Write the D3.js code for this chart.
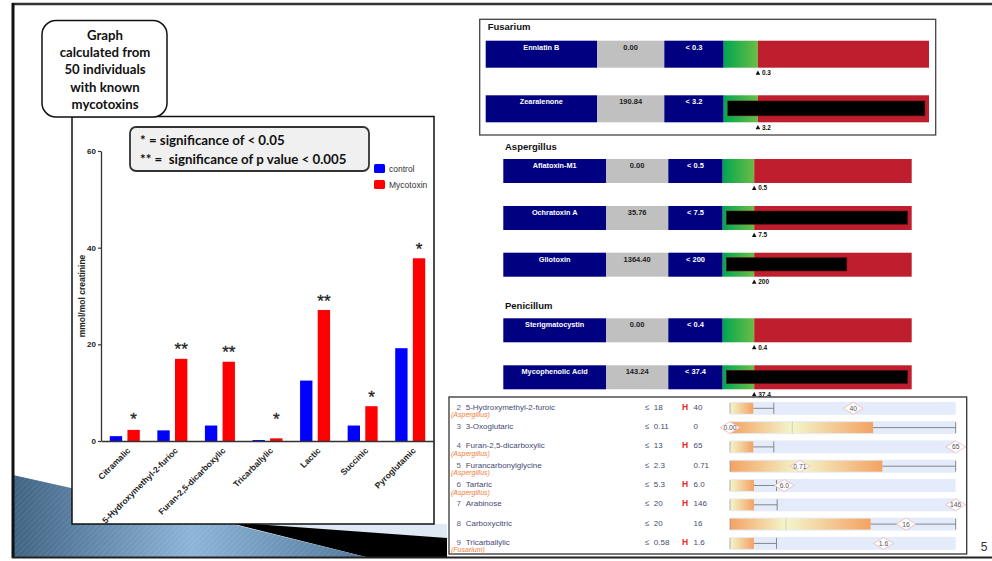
<!DOCTYPE html>
<html><head><meta charset="utf-8">
<script src="https://cdn.jsdelivr.net/npm/d3@7"></script>
<style>body{margin:0;background:#fff;overflow:hidden}svg{display:block}</style>
</head><body>
<svg id="s" width="992" height="561"></svg>
<script>
// ---------------- DATA ----------------
const categories = ["Citramalic","5-Hydroxymethyl-2-furioc","Furan-2,5-dicarboxylic","Tricarballylic","Lactic","Succinic","Pyroglutamic"];
const seriesNames = ["control","Mycotoxin"];
const controlValues = [1.0, 2.2, 3.2, 0.2, 12.5, 3.2, 19.2];
const mycotoxinValues = [2.3, 17.0, 16.4, 0.55, 27.1, 7.2, 37.8];
const significance = ["*","**","**","*","**","*","*"];
const yTicks = [0, 20, 40, 60];
const yLabel = "mmol/mol creatinine";
const noteLines = ["Graph","calculated from","50 individuals","with known","mycotoxins"];
const sigLines = ["* = significance of < 0.05","** =  significance of p value < 0.005"];

const fusariumNames = ["Enniatin B","Zearalenone"];
const fusariumResults = ["0.00","190.84"];
const fusariumCutoffs = ["0.3","3.2"];
const fusariumRedact = [0, 5.88];
const aspergillusNames = ["Aflatoxin-M1","Ochratoxin A","Gliotoxin"];
const aspergillusResults = ["0.00","35.76","1364.40"];
const aspergillusCutoffs = ["0.5","7.5","200"];
const aspergillusRedact = [0, 5.87, 3.94];
const penicillumNames = ["Sterigmatocystin","Mycophenolic Acid"];
const penicillumResults = ["0.00","143.24"];
const penicillumCutoffs = ["0.4","37.4"];
const penicillumRedact = [0, 5.87];

const tableIndex = [2,3,4,5,6,7,8,9];
const tableNames = ["5-Hydroxymethyl-2-furoic","3-Oxoglutaric","Furan-2,5-dicarboxylic","Furancarbonylglycine","Tartaric","Arabinose","Carboxycitric","Tricarballylic"];
const tableGenus = ["Aspergillus","","Aspergillus","Aspergillus","Aspergillus","","","Fusarium"];
const tableLimits = ["18","0.11","13","2.3","5.3","20","20","0.58"];
const tableFlags = ["H","","H","","H","H","","H"];
const tableValues = ["40","0","65","0.71","6.0","146","16","1.6"];
const markerLabels = ["40","0.00","65","0.71","6.0","146","16","1.6"];
const boxMid = [null, 27.6, null, 31, null, null, 24.8, null];
const boxEnd = [10.3, 63.4, 10.3, 67.5, 10.6, 10.6, 62.3, 10.6];
const whiskerEnd = [19.4, 100, 19.4, 100, 20.6, 20.9, 100, 20.6];
const markerPos = [54.6, 0, 100, 31, 24.1, 100, 78, 68];
const pageNumber = "5";

// ---------------- DRAW ----------------
const svg = d3.select("#s");
const defs = svg.append("defs");
const ARIAL = "'Liberation Sans', Arial, sans-serif";
const CAL = "Lato, 'Open Sans', sans-serif";

// background decoration
const bg = defs.append("linearGradient").attr("id","wedge").attr("x1","0").attr("x2","1").attr("y1","0").attr("y2","0");
bg.append("stop").attr("offset","0").attr("stop-color","#3f6383");
bg.append("stop").attr("offset","0.5").attr("stop-color","#8db5d7");
bg.append("stop").attr("offset","1").attr("stop-color","#4f7699");
const pat = defs.append("pattern").attr("id","hatch").attr("width",4).attr("height",4).attr("patternUnits","userSpaceOnUse").attr("patternTransform","rotate(45)");
pat.append("line").attr("x1",0).attr("y1",0).attr("x2",0).attr("y2",4).attr("stroke","#ffffff").attr("stroke-opacity",0.18).attr("stroke-width",1);

svg.append("polygon").attr("points","240,524 447,524 447,540 400,540").attr("fill","#dfe9f3");
svg.append("polygon").attr("points","226,522 447,538 447,558 370,558").attr("fill","#000");
const wedgePts = "13,475 232,524 370,558 13,558";
svg.append("polygon").attr("points",wedgePts).attr("fill","url(#wedge)");
svg.append("polygon").attr("points",wedgePts).attr("fill","url(#hatch)");

// slide frame
svg.append("line").attr("x1",12).attr("x2",992).attr("y1",4).attr("y2",4).attr("stroke","#333").attr("stroke-width",2.5);
svg.append("line").attr("x1",13).attr("x2",13).attr("y1",3).attr("y2",558).attr("stroke","#111").attr("stroke-width",3);
svg.append("line").attr("x1",12).attr("x2",992).attr("y1",557.5).attr("y2",557.5).attr("stroke","#222").attr("stroke-width",2);

// chart frame
svg.append("rect").attr("x",72).attr("y",116.5).attr("width",362).attr("height",407.5)
  .attr("fill","#fff").attr("stroke","#111").attr("stroke-width",1.5);

const x0 = d3.scaleBand().domain(categories).range([101,434]).padding(0);
const x1 = d3.scaleBand().domain(seriesNames).range([x0.bandwidth()/2-15, x0.bandwidth()/2+15]).paddingInner(0.3);
const y = d3.scaleLinear().domain([0,60]).range([441,151]);
const color = d3.scaleOrdinal().domain(seriesNames).range(["#0000ff","#ff0000"]);

const chart = svg.append("g");
const rows = categories.map((c,i)=>({c, vals:[{k:"control",v:controlValues[i]},{k:"Mycotoxin",v:mycotoxinValues[i]}], sig:significance[i], m:mycotoxinValues[i]}));
const grp = chart.selectAll("g.grp").data(rows).join("g").attr("transform",d=>`translate(${x0(d.c)},0)`);
grp.selectAll("rect").data(d=>d.vals).join("rect")
  .attr("x",d=>x1(d.k)).attr("width",x1.bandwidth())
  .attr("y",d=>y(d.v)).attr("height",d=>y(0)-y(d.v))
  .attr("fill",d=>color(d.k));
grp.append("text").text(d=>d.sig)
  .attr("x",x1("Mycotoxin")+x1.bandwidth()/2)
  .attr("y",d=>y(Math.max(d.m,2.5))-3.5)
  .attr("text-anchor","middle").attr("font-family",ARIAL).attr("font-size",17).attr("fill","#222")
  .attr("stroke","#222").attr("stroke-width",0.3);

const yAxis = chart.append("g").attr("transform","translate(101,0)")
  .call(d3.axisLeft(y).tickValues(yTicks).tickSize(3).tickSizeOuter(0).tickPadding(2));
yAxis.select(".domain").attr("stroke","#333").attr("stroke-width",1.3);
yAxis.selectAll(".tick line").attr("stroke","#333").attr("stroke-width",1.2);
yAxis.selectAll("text").attr("font-family",ARIAL).attr("font-size",8).attr("font-weight","bold").attr("fill","#222");

const xAxis = chart.append("g").attr("transform","translate(0,441)")
  .call(d3.axisBottom(x0).tickSize(0).tickSizeOuter(0));
xAxis.select(".domain").attr("stroke","#333").attr("stroke-width",1.3);
xAxis.selectAll("text").attr("font-family",ARIAL).attr("font-size",8.5).attr("font-weight","bold").attr("fill","#222")
  .attr("x",0).attr("y",0).attr("dy","0.35em").attr("text-anchor","end")
  .attr("transform","translate(4,8) rotate(-45)");

chart.append("text").text(yLabel).attr("transform","translate(85,296) rotate(-90)")
  .attr("text-anchor","middle").attr("font-family",ARIAL).attr("font-size",8.5).attr("font-weight","bold").attr("fill","#222");

// legend
const leg = chart.selectAll("g.leg").data(seriesNames).join("g").attr("transform",(d,i)=>`translate(374,${164+i*16})`);
leg.append("rect").attr("width",11).attr("height",9).attr("rx",1.5).attr("fill",d=>color(d));
leg.append("text").text(d=>d).attr("x",15).attr("y",8).attr("font-family",ARIAL).attr("font-size",8.5).attr("fill","#333");

// significance box
svg.append("rect").attr("x",130).attr("y",127).attr("width",239).attr("height",44).attr("rx",6)
  .attr("fill","#f0f0f0").attr("stroke","#333").attr("stroke-width",1.8);
svg.selectAll("text.sig").data(sigLines).join("text").text(d=>d)
  .attr("x",140).attr("y",(d,i)=>144.5+i*19).attr("font-family",CAL).attr("font-weight","bold").attr("font-size",13.3).attr("fill","#111")
  .style("white-space","pre").attr("xml:space","preserve");

// note box
svg.append("rect").attr("x",42).attr("y",20.5).attr("width",125).attr("height",96.5).attr("rx",14)
  .attr("fill","#fff").attr("stroke","#111").attr("stroke-width",1.5);
const noteY = [39.5,57,73.5,92,108.5];
svg.selectAll("text.note").data(noteLines).join("text").text(d=>d)
  .attr("x",105).attr("y",(d,i)=>noteY[i]).attr("text-anchor","middle")
  .attr("font-family",CAL).attr("font-weight","bold").attr("font-size",13.2).attr("fill","#111");

// ---------------- Mycotoxin panels ----------------
const gGrad = defs.append("linearGradient").attr("id","grn");
gGrad.append("stop").attr("offset","0").attr("stop-color","#00a651");
gGrad.append("stop").attr("offset","1").attr("stop-color","#6cbd45");

function panel(title, tx, ty, x0p, widths, tops, rh, names, results, cutoffs, redact){
  const g = svg.append("g");
  g.append("text").text(title).attr("x",tx).attr("y",ty).attr("font-family",ARIAL).attr("font-weight","bold").attr("font-size",9.5).attr("fill","#111");
  const xs = [x0p]; widths.forEach(w=>xs.push(xs[xs.length-1]+w));
  const gauge = d3.scaleLinear().domain([0,6]).range([xs[3],xs[4]]);
  names.forEach((n,i)=>{
    const t = tops[i];
    g.append("rect").attr("x",xs[0]).attr("y",t).attr("width",widths[0]).attr("height",rh).attr("fill","#000080");
    g.append("rect").attr("x",xs[1]).attr("y",t).attr("width",widths[1]).attr("height",rh).attr("fill","#c0c0c0");
    g.append("rect").attr("x",xs[2]).attr("y",t).attr("width",widths[2]).attr("height",rh).attr("fill","#000080");
    g.append("rect").attr("x",gauge(0)).attr("y",t).attr("width",gauge(1)-gauge(0)).attr("height",rh).attr("fill","url(#grn)");
    g.append("rect").attr("x",gauge(1)).attr("y",t).attr("width",gauge(6)-gauge(1)).attr("height",rh).attr("fill","#be1e2d");
    const ty2 = t+8.8;
    g.append("text").text(n).attr("x",xs[0]+widths[0]/2).attr("y",ty2).attr("text-anchor","middle").attr("font-family",ARIAL).attr("font-weight","bold").attr("font-size",7.3).attr("fill","#fff");
    g.append("text").text(results[i]).attr("x",xs[1]+widths[1]/2).attr("y",ty2).attr("text-anchor","middle").attr("font-family",ARIAL).attr("font-weight","bold").attr("font-size",7.5).attr("fill","#222");
    g.append("text").text("< "+cutoffs[i]).attr("x",xs[2]+widths[2]/2).attr("y",ty2).attr("text-anchor","middle").attr("font-family",ARIAL).attr("font-weight","bold").attr("font-size",7.5).attr("fill","#fff");
    if (redact[i] > 0){
      g.append("rect").attr("x",gauge(0.12)).attr("y",t+rh*0.21).attr("width",gauge(redact[i])-gauge(0.12)).attr("height",rh*0.55)
        .attr("fill","#000").attr("stroke","#5a0a10").attr("stroke-width",0.6);
    }
    const mx = gauge(1), my = t+rh+5;
    g.append("path").attr("d",`M${mx-2.3},${my+2} L${mx+2.3},${my+2} L${mx},${my-2.2} Z`).attr("fill","#111");
    g.append("text").text(cutoffs[i]).attr("x",mx+4).attr("y",my+2.4).attr("font-family",ARIAL).attr("font-weight","bold").attr("font-size",6.5).attr("fill","#111");
  });
}
svg.append("rect").attr("x",479.7).attr("y",19.3).attr("width",456).attr("height",115.7).attr("fill","#fff").attr("stroke","#444").attr("stroke-width",1.3);
panel("Fusarium",487.7,29.5,485.7,[111.3,67.3,59.4,205.3],[40.7,95.3],27,fusariumNames,fusariumResults,fusariumCutoffs,fusariumRedact);
panel("Aspergillus",505,150,503.3,[102.7,62.3,54.4,189],[159,206,252.7],24,aspergillusNames,aspergillusResults,aspergillusCutoffs,aspergillusRedact);
panel("Penicillum",505,309,503.3,[102.7,62.3,54.4,189],[318.3,365.3],24,penicillumNames,penicillumResults,penicillumCutoffs,penicillumRedact);

// ---------------- Table ----------------
svg.append("rect").attr("x",449).attr("y",397).attr("width",517.7).attr("height",157).attr("fill","#fff").attr("stroke","#333").attr("stroke-width",1.3);
const og1 = defs.append("linearGradient").attr("id","yo");
og1.append("stop").attr("offset","0").attr("stop-color","#f3f6cb");
og1.append("stop").attr("offset","1").attr("stop-color","#f4a263");
const og2 = defs.append("linearGradient").attr("id","oy");
og2.append("stop").attr("offset","0").attr("stop-color","#f4a263");
og2.append("stop").attr("offset","1").attr("stop-color","#f3f6cb");

const bx = d3.scaleLinear().domain([0,100]).range([730,955.7]);
const rowY = d3.scaleLinear().domain([0,1]).range([408.3,427.6]);
const TXT = "#454a72";
tableNames.forEach((n,i)=>{
  const cy = rowY(i);
  const g = svg.append("g");
  g.append("rect").attr("x",bx(0)).attr("y",cy-6.5).attr("width",bx(100)-bx(0)).attr("height",13).attr("fill","#e4ebfa");
  g.append("text").text(tableIndex[i]).attr("x",461).attr("y",cy+1.5).attr("text-anchor","end").attr("font-family",ARIAL).attr("font-size",8).attr("fill","#5a5f80");
  g.append("text").text(n).attr("x",465.7).attr("y",cy+1.5).attr("font-family",ARIAL).attr("font-size",8).attr("fill",TXT);
  if (tableGenus[i]) g.append("text").text("("+tableGenus[i]+")").attr("x",451).attr("y",cy+9).attr("font-family",ARIAL).attr("font-style","italic").attr("font-size",7).attr("fill","#f07c3a");
  g.append("text").text("≤  "+tableLimits[i]).attr("x",645).attr("y",cy+1.5).attr("font-family",ARIAL).attr("font-size",8).attr("fill",TXT).attr("xml:space","preserve");
  if (tableFlags[i]) g.append("text").text(tableFlags[i]).attr("x",682).attr("y",cy+1.5).attr("font-family",ARIAL).attr("font-weight","bold").attr("font-size",8.5).attr("fill","#e8262a");
  g.append("text").text(tableValues[i]).attr("x",693.5).attr("y",cy+1.5).attr("font-family",ARIAL).attr("font-size",8).attr("fill",TXT);
  const bh = 11;
  if (boxMid[i] !== null){
    g.append("rect").attr("x",bx(0)).attr("y",cy-bh/2).attr("width",bx(boxMid[i])-bx(0)).attr("height",bh).attr("fill","url(#oy)");
    g.append("rect").attr("x",bx(boxMid[i])).attr("y",cy-bh/2).attr("width",bx(boxEnd[i])-bx(boxMid[i])).attr("height",bh).attr("fill","url(#yo)");
    g.append("line").attr("x1",bx(boxMid[i])).attr("x2",bx(boxMid[i])).attr("y1",cy-bh/2).attr("y2",cy+bh/2).attr("stroke","#c8c8a8").attr("stroke-width",0.8);
  } else {
    g.append("rect").attr("x",bx(0)).attr("y",cy-bh/2).attr("width",bx(boxEnd[i])-bx(0)).attr("height",bh).attr("fill","url(#yo)");
  }
  g.append("line").attr("x1",bx(0)).attr("x2",bx(0)).attr("y1",cy-bh/2).attr("y2",cy+bh/2).attr("stroke","#999").attr("stroke-width",0.8);
  g.append("line").attr("x1",bx(boxEnd[i])).attr("x2",bx(whiskerEnd[i])).attr("y1",cy).attr("y2",cy).attr("stroke","#7a7a7a").attr("stroke-width",0.9);
  g.append("line").attr("x1",bx(whiskerEnd[i])).attr("x2",bx(whiskerEnd[i])).attr("y1",cy-bh/2).attr("y2",cy+bh/2).attr("stroke","#7a7a7a").attr("stroke-width",0.9);
  const mx = bx(markerPos[i]);
  g.append("path").attr("d",`M${mx-10},${cy} L${mx},${cy-6} L${mx+10},${cy} L${mx},${cy+6} Z`).attr("fill","#fff").attr("stroke","#f0b4b4").attr("stroke-width",0.8);
  g.append("text").text(markerLabels[i]).attr("x",mx).attr("y",cy+2.4).attr("text-anchor","middle").attr("font-family",ARIAL).attr("font-size",6.8).attr("fill","#555");
});

svg.append("text").text(pageNumber).attr("x",984).attr("y",551).attr("text-anchor","middle").attr("font-family",ARIAL).attr("font-size",12).attr("fill","#333");
</script>
</body></html>
